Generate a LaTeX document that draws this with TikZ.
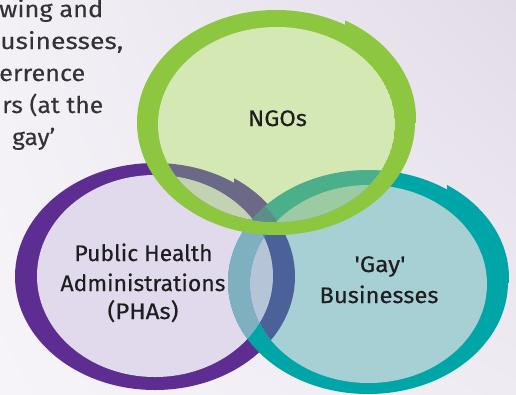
\documentclass[tikz,border=0pt]{standalone}
\usepackage{fontspec}
\usepackage{graphicx}
\usetikzlibrary{shadings}
\setmainfont{Fira Sans}
\newfontfamily\topfont{Fira Sans}[FakeBold=0.15]
\newfontfamily\labfont{Fira Sans}[FakeBold=0.3,Ligatures=TeXOff]
\newcommand\fitto[2]{\resizebox{#1}{\height}{#2}}
\definecolor{bgUL}{HTML}{F3F0F6}
\definecolor{bgUR}{HTML}{E2DCE7}
\definecolor{bgLL}{HTML}{F6F3F9}
\definecolor{bgLR}{HTML}{EFEBF3}
\definecolor{pRing}{HTML}{5E2D91}
\definecolor{pFill}{HTML}{E0DAEC}
\definecolor{tRing}{HTML}{00A5A8}
\definecolor{tFill}{HTML}{A6D0D4}
\definecolor{gRing}{HTML}{8DC63F}
\definecolor{gFill}{HTML}{D4E8B4}
\definecolor{tRingOnP}{HTML}{7FB0BF}
\definecolor{tFillOnPRing}{HTML}{4A6199}
\definecolor{tFillOnPFill}{HTML}{B5C4D6}
\definecolor{pRingOnG}{HTML}{6B6888}
\definecolor{pFillOnG}{HTML}{C3D3B1}
\definecolor{tRingOnG}{HTML}{4AAF8A}
\definecolor{tRingPRingOnG}{HTML}{5E8E8A}
\definecolor{tFillOnG}{HTML}{9CCBA3}
\definecolor{topText}{HTML}{333236}
\definecolor{labText}{HTML}{1F1D1F}
\def\PO{(155,276.5) ellipse [x radius=140pt, y radius=113.5pt]}
\def\PI{(155,276) ellipse [x radius=118pt, y radius=101pt]}
\def\TO{(368,282) ellipse [x radius=140pt, y radius=112pt]}
\def\TI{(368.5,284) ellipse [x radius=118.5pt, y radius=99pt]}
\def\GO{(276,122.5) ellipse [x radius=139pt, y radius=112.5pt]}
\def\GI{(276.5,124.5) ellipse [x radius=118.5pt, y radius=97.5pt]}
\newcommand\PBump[1]{\begin{scope}\clip (234,100) rectangle (330,276.5);
  \fill[#1] (156,272.5) ellipse [x radius=140pt, y radius=113.5pt];\end{scope}}
\newcommand\TBump[1]{\begin{scope}\clip (447,100) rectangle (530,282);
  \fill[#1] (369,278) ellipse [x radius=140pt, y radius=112pt];\end{scope}}
\newcommand\GBump[1]{\begin{scope}\clip (345,0) rectangle (440,122.5);
  \fill[#1] (277,118.5) ellipse [x radius=139pt, y radius=112.5pt];\end{scope}}
\tikzset{
  toptext/.style={inner sep=0pt, anchor=base west, text=topText,
    font=\topfont\fontsize{23}{30}\selectfont},
  lab/.style={inner sep=0pt, anchor=base, text=labText,
    font=\labfont\fontsize{22.5}{30}\selectfont}
}
\begin{document}
\begin{tikzpicture}[x=1pt,y=-1pt]
\useasboundingbox (0,0) rectangle (516,394);
\clip (0,0) rectangle (516,394);
\shade[upper left=bgUL, upper right=bgUR, lower left=bgLL, lower right=bgLR] (0,0) rectangle (516,394);
% top-left text fragment
\node[toptext] (t1) at (-1,17) {\fitto{104pt}{wing and}};
\node[toptext] (t2) at (0,49) {\fitto{123pt}{usinesses,}};
\node[toptext] (t3) at (-1,81) {\fitto{86pt}{errence}};
\node[toptext] (t4) at (2,113) {\fitto{101pt}{rs (at the}};
\node[toptext] (t5) at (12,145) {\fitto{43pt}{gay’}};
% purple
\fill[pRing] \PO; \PBump{pRing}
\fill[pFill] \PI;
% teal
\fill[tRing] \TO; \TBump{tRing}
\begin{scope}\clip \PI; \fill[tRingOnP] \TO; \end{scope}
\fill[tFill] \TI;
\begin{scope}\clip \TI; \fill[tFillOnPRing] \PO; \fill[tFillOnPFill] \PI; \end{scope}
% green
\fill[gRing] \GO; \GBump{gRing}
\begin{scope}\clip \GI;
  \fill[gFill] \GI;
  \fill[pRingOnG] \PO; \PBump{pRingOnG}
  \fill[pFillOnG] \PI;
  \fill[tRingOnG] \TO;
  \begin{scope}\clip \PO; \fill[tRingPRingOnG] \TO; \end{scope}
  \fill[tFillOnG] \TI;
\end{scope}
% labels
\node[lab] (ngo) at (277.5,126) {\fitto{59pt}{NGOs}};
\node[lab] (pha1) at (143.5,261) {\fitto{138pt}{Public Health}};
\node[lab] (pha2) at (143,291) {\fitto{165pt}{Administrations}};
\node[lab] (pha3) at (143,319) {\fitto{71pt}{(PHAs)}};
\node[lab] (gb1) at (380,272) {\fitto{51pt}{'Gay'}};
\node[lab] (gb2) at (379,303) {\fitto{119pt}{Businesses}};
\end{tikzpicture}
\end{document}
